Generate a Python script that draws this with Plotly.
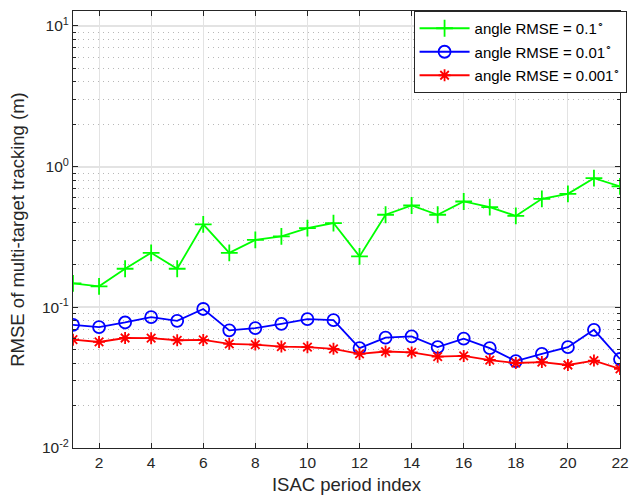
import plotly.graph_objects as go

x = list(range(1, 23))
green = [0.148, 0.141, 0.188, 0.244, 0.188, 0.389, 0.244, 0.301, 0.319, 0.365, 0.397,
         0.230, 0.455, 0.529, 0.455, 0.565, 0.515, 0.446, 0.590, 0.640, 0.828, 0.723]
blue = [0.0751, 0.0723, 0.0780, 0.0851, 0.0801, 0.0973, 0.0686, 0.0712, 0.0763, 0.0824, 0.0810,
        0.0513, 0.0608, 0.0622, 0.0521, 0.0599, 0.0513, 0.0415, 0.0466, 0.0521, 0.0692, 0.0429]
red = [0.0589, 0.0567, 0.0605, 0.0603, 0.0583, 0.0586, 0.0550, 0.0543, 0.0526, 0.0521, 0.0507,
       0.0466, 0.0485, 0.0478, 0.0446, 0.0451, 0.0422, 0.0402, 0.0408, 0.0389, 0.0418, 0.0365]
names = ["angle RMSE = 0.1<sup>∘</sup>", "angle RMSE = 0.01<sup>∘</sup>", "angle RMSE = 0.001<sup>∘</sup>"]
xticks = list(range(2, 23, 2))
yticks = [0.01, 0.1, 1, 10]
yticktext = ["10<sup>-2</sup>", "10<sup>-1</sup>", "10<sup>0</sup>", "10<sup>1</sup>"]
decades = [0.01, 0.1, 1, 10]
minor_mult = [2, 3, 4, 5, 6, 7, 8, 9]
yminor = [d * m for d in decades for m in minor_mult if d * m < 12.8]

FONT = "Liberation Sans, Arial, sans-serif"
AX = "#262626"

fig = go.Figure()
fig.add_trace(go.Scatter(x=x, y=green, name=names[0], mode="lines+markers", legendgroup="a",
                         line=dict(color="#00ff00", width=1.8),
                         marker=dict(symbol="cross-thin", size=12, line=dict(color="#00ff00", width=1.8))))
fig.add_trace(go.Scatter(x=x, y=blue, name=names[1], mode="lines+markers", legendgroup="b",
                         line=dict(color="#0000ff", width=1.8),
                         marker=dict(symbol="circle-open", size=12, color="#0000ff", line=dict(width=1.8))))
fig.add_trace(go.Scatter(x=x, y=red, name=names[2], mode="lines+markers", legendgroup="c",
                         line=dict(color="#ff0000", width=1.8),
                         marker=dict(symbol="asterisk-open", size=10, line=dict(color="#ff0000", width=1.8))))

fig.update_layout(
    width=639, height=502,
    margin=dict(l=73, r=10, t=10, b=51),
    paper_bgcolor="white", plot_bgcolor="white",
    font=dict(family=FONT, size=14, color=AX),
    legend=dict(x=1.012, y=1, xanchor="right", yanchor="top",
                bgcolor="white", bordercolor="#262626", borderwidth=1,
                font=dict(family=FONT, size=15, color="black"),
                tracegroupgap=1, itemwidth=50),
    showlegend=True,
)
fig.update_xaxes(
    range=[1, 22], tickvals=xticks, ticks="inside", ticklen=5, tickcolor=AX,
    showline=True, linecolor=AX, linewidth=1, mirror="ticks",
    showgrid=True, gridcolor="#e3e3e3", gridwidth=1, zeroline=False,
    tickfont=dict(size=15.5, color=AX),
    title=dict(text="ISAC period index", font=dict(size=18.5, color=AX), standoff=8),
)
fig.update_yaxes(
    type="log", range=[-2, 1.106], tickvals=yticks, ticktext=yticktext,
    ticks="inside", ticklen=5, tickcolor=AX,
    showline=True, linecolor=AX, linewidth=1, mirror="ticks",
    showgrid=True, gridcolor="#e3e3e3", gridwidth=1.5, zeroline=False,
    tickfont=dict(size=15.5, color=AX),
    minor=dict(tickmode="array", tickvals=yminor, showgrid=True, griddash="1px,4px",
               gridcolor="#b8b8b8", gridwidth=1, ticks="inside", ticklen=3, tickcolor=AX),
    title=dict(text="RMSE of multi-target tracking (m)", font=dict(size=18.5, color=AX), standoff=12),
)
fig.write_html("out.html")
